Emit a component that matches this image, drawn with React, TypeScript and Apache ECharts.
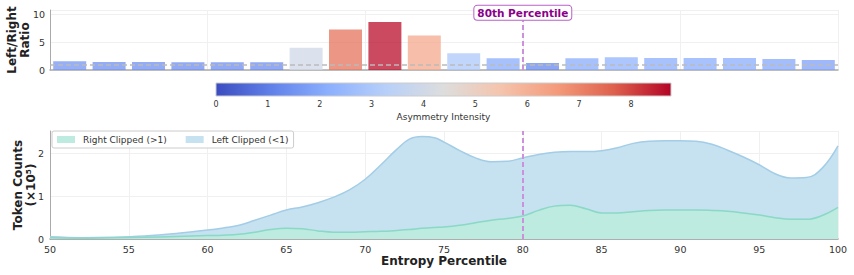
import React, { useEffect, useRef } from "react";
import * as echarts from "echarts";

const binCenters = [51.25, 53.75, 56.25, 58.75, 61.25, 63.75, 66.25, 68.75, 71.25, 73.75, 76.25, 78.75, 81.25, 83.75, 86.25, 88.75, 91.25, 93.75, 96.25, 98.75];
const ratioValues = [1.56, 1.44, 1.44, 1.38, 1.38, 1.38, 4.0, 7.3, 8.65, 6.2, 3.0, 2.1, 1.26, 2.1, 2.3, 2.15, 2.15, 2.15, 2.0, 1.8];
const colorbarTicks = [0, 1, 2, 3, 4, 5, 6, 7, 8];
const colorMax = 8.77;

const percentiles = [50, 52, 54, 56, 58, 60, 61, 62, 63, 64, 65, 66, 67, 68, 69, 70, 71, 72, 72.8, 73.6, 74.4, 75, 76, 77, 78, 79, 80, 81, 82, 83, 84, 85, 86, 87, 88, 89, 90, 91, 92, 93, 94, 95, 96, 97, 98, 99, 100];
const leftClipped = [0.05, 0.03, 0.04, 0.07, 0.13, 0.21, 0.26, 0.32, 0.44, 0.56, 0.68, 0.75, 0.85, 0.98, 1.15, 1.40, 1.74, 2.10, 2.34, 2.40, 2.37, 2.27, 2.07, 1.90, 1.81, 1.82, 1.90, 1.98, 2.03, 2.05, 2.05, 2.07, 2.14, 2.24, 2.29, 2.30, 2.30, 2.29, 2.22, 2.08, 1.92, 1.74, 1.53, 1.43, 1.44, 1.66, 2.18];
const rightClipped = [0.03, 0.02, 0.03, 0.04, 0.06, 0.08, 0.09, 0.11, 0.16, 0.22, 0.25, 0.24, 0.19, 0.16, 0.16, 0.17, 0.18, 0.20, 0.22, 0.25, 0.27, 0.28, 0.32, 0.38, 0.44, 0.48, 0.54, 0.67, 0.77, 0.79, 0.71, 0.61, 0.61, 0.64, 0.67, 0.68, 0.68, 0.68, 0.67, 0.65, 0.61, 0.56, 0.50, 0.46, 0.46, 0.55, 0.74];
const markerPercentile = 80;

const coolwarm: [number, number, number][] = [
  [59, 76, 192], [98, 130, 234], [141, 176, 254], [184, 208, 249], [221, 221, 221],
  [245, 196, 173], [244, 154, 123], [222, 96, 77], [180, 4, 38],
];

function cw(t: number, alpha = 1): string {
  const x = Math.max(0, Math.min(1, t)) * (coolwarm.length - 1);
  const i = Math.min(coolwarm.length - 2, Math.floor(x));
  const f = x - i;
  const a = coolwarm[i], b = coolwarm[i + 1];
  const c = [0, 1, 2].map((k) => Math.round(a[k] + (b[k] - a[k]) * f));
  return `rgba(${c[0]},${c[1]},${c[2]},${alpha})`;
}

const FONT = "DejaVu Sans";

export default function App() {
  const ref = useRef<HTMLDivElement>(null);
  useEffect(() => {
    if (!ref.current) return;
    const chart = echarts.init(ref.current, null, { renderer: "svg" });
    const stops = coolwarm.map((c, i) => ({ offset: i / (coolwarm.length - 1), color: `rgb(${c[0]},${c[1]},${c[2]})` }));
    const gridLine = { show: true, lineStyle: { color: "#f0f0f0", width: 1 } };
    const axisLabel = { color: "#333", fontFamily: FONT, fontSize: 9.5 };
    chart.setOption({
      animation: false,
      textStyle: { fontFamily: FONT },
      grid: [
        { left: 50, right: 16, top: 10, height: 60, outerBoundsMode: "none", containLabel: false },
        { left: 216, width: 455, top: 83, height: 13, show: true, borderColor: "#cccccc", borderWidth: 1,
          outerBoundsMode: "none", containLabel: false,
          backgroundColor: new echarts.graphic.LinearGradient(0, 0, 1, 0, stops) },
        { left: 50, right: 16, top: 131, bottom: 36, outerBoundsMode: "none", containLabel: false },
      ],
      legend: {
        left: 52, top: 131, orient: "horizontal",
        data: [
          { name: "Right Clipped (>1)", icon: "rect" },
          { name: "Left Clipped (<1)", icon: "rect" },
        ],
        itemWidth: 18, itemHeight: 7, itemGap: 19,
        borderColor: "#cccccc", borderWidth: 1, borderRadius: 2, padding: [4, 5, 4, 5],
        backgroundColor: "rgba(255,255,255,0.85)",
        textStyle: { fontFamily: FONT, fontSize: 9, color: "#333", padding: [0, 0, 0, 3] },
      },
      xAxis: [
        { gridIndex: 0, type: "value", min: 50, max: 100, interval: 10,
          axisLine: { show: true, lineStyle: { color: "#aaaaaa", width: 1.5 } },
          axisTick: { show: false }, axisLabel: { show: false }, splitLine: gridLine },
        { gridIndex: 1, type: "value", min: 0, max: colorMax, interval: 1,
          axisLine: { show: false }, axisTick: { show: false }, splitLine: { show: false },
          axisLabel: { color: "#333", fontFamily: FONT, fontSize: 8, margin: 4,
            formatter: (v: number) => (colorbarTicks.includes(v) ? String(v) : "") },
          name: "Asymmetry Intensity", nameLocation: "middle", nameGap: 16, nameMoveOverlap: false,
          nameTextStyle: { color: "#333", fontFamily: FONT, fontSize: 9 } },
        { gridIndex: 2, type: "value", min: 50, max: 100, interval: 5,
          axisLine: { show: true, lineStyle: { color: "#999999", width: 1.5 } },
          axisTick: { show: false }, splitLine: gridLine,
          axisLabel: { ...axisLabel, margin: 5 },
          name: "Entropy Percentile", nameLocation: "middle", nameGap: 16, nameMoveOverlap: false,
          nameTextStyle: { color: "#222", fontFamily: FONT, fontSize: 12, fontWeight: "bold" } },
      ],
      yAxis: [
        { gridIndex: 0, type: "value", min: 0, max: 10.8, interval: 5,
          axisLine: { show: true, lineStyle: { color: "#aaaaaa", width: 1 } },
          axisTick: { show: false }, splitLine: gridLine,
          axisLabel: { ...axisLabel, margin: 5, formatter: (v: number) => (v > 10.5 ? "" : String(v)) },
          name: "Left/Right\nRatio", nameLocation: "middle", nameGap: 18, nameRotate: 90, nameMoveOverlap: false,
          nameTextStyle: { color: "#222", fontFamily: FONT, fontSize: 12, fontWeight: "bold", lineHeight: 13.5 } },
        { gridIndex: 1, type: "value", min: 0, max: 1, show: false },
        { gridIndex: 2, type: "value", min: 0, max: 2.53, interval: 1,
          axisLine: { show: true, lineStyle: { color: "#aaaaaa", width: 1 } },
          axisTick: { show: false }, splitLine: gridLine,
          axisLabel: { ...axisLabel, margin: 6, formatter: (v: number) => (v > 2.5 ? "" : String(v)) },
          name: "Token Counts\n(×10⁵)", nameLocation: "middle", nameGap: 12, nameRotate: 90, nameMoveOverlap: false,
          nameTextStyle: { color: "#222", fontFamily: FONT, fontSize: 12, fontWeight: "bold", lineHeight: 13.5 } },
      ],
      series: [
        {
          type: "bar", xAxisIndex: 0, yAxisIndex: 0, barWidth: 33,
          data: binCenters.map((c, i) => ({
            value: [c, ratioValues[i]],
            itemStyle: { color: cw(ratioValues[i] / colorMax, 0.75) },
          })),
          markLine: {
            silent: true, symbol: "none",
            data: [
              { yAxis: 1, lineStyle: { color: "#bbbbbb", type: [5, 3], width: 1.5 }, label: { show: false } },
              [
                { coord: [markerPercentile, 0], lineStyle: { color: "#cc90dc", type: [5, 3], width: 2 } },
                { coord: [markerPercentile, 8.85] },
              ],
            ],
            label: {
              show: true, position: "end", distance: 1,
              formatter: "80th Percentile",
              color: "#8b008b", fontFamily: FONT, fontSize: 10.5, fontWeight: "bold",
              backgroundColor: "#ffffff", borderColor: "#b860c8", borderWidth: 1, borderRadius: 3,
              padding: [2, 3, 1, 3],
            },
          },
        },
        {
          name: "Left Clipped (<1)", type: "line", xAxisIndex: 2, yAxisIndex: 2, smooth: 0.4,
          showSymbol: false, symbol: "none",
          data: percentiles.map((p, i) => [p, leftClipped[i]]),
          lineStyle: { color: "#a3cde6", width: 1.5 },
          itemStyle: { color: "#c6e1f0" },
          areaStyle: { color: "#c6e1f0", opacity: 1 },
          z: 2,
        },
        {
          name: "Right Clipped (>1)", type: "line", xAxisIndex: 2, yAxisIndex: 2, smooth: 0.4,
          showSymbol: false, symbol: "none",
          data: percentiles.map((p, i) => [p, rightClipped[i]]),
          lineStyle: { color: "#8ad8c6", width: 1.5 },
          itemStyle: { color: "#bdebdf" },
          areaStyle: { color: "#bdebdf", opacity: 1 },
          z: 3,
          markLine: {
            silent: true, symbol: "none", label: { show: false },
            lineStyle: { color: "#cc90dc", type: [5, 3], width: 2 },
            data: [[{ coord: [markerPercentile, 0] }, { coord: [markerPercentile, 2.53] }]],
          },
        },
      ],
    });
    return () => chart.dispose();
  }, []);
  return <div ref={ref} style={{ width: 854, height: 275, position: "absolute", left: 0, top: 0 }} />;
}
